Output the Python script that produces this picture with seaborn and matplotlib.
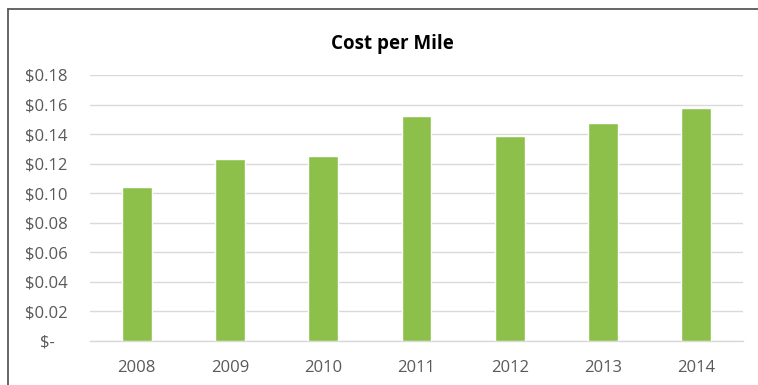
import matplotlib
matplotlib.use("Agg")
import matplotlib.pyplot as plt
from matplotlib.lines import Line2D
import seaborn as sns
import pandas as pd

years = ["2008", "2009", "2010", "2011", "2012", "2013", "2014"]
cost_per_mile = [0.104, 0.123, 0.125, 0.1525, 0.1385, 0.1475, 0.158]
y_ticks = [0.0, 0.02, 0.04, 0.06, 0.08, 0.10, 0.12, 0.14, 0.16, 0.18]
y_labels = ["$-   ", "$0.02", "$0.04", "$0.06", "$0.08", "$0.10", "$0.12", "$0.14", "$0.16", "$0.18"]

sns.set_theme(style="white")
plt.rcParams["font.family"] = ["Open Sans", "DejaVu Sans"]

df = pd.DataFrame({"Year": years, "Cost": cost_per_mile})

W, H = 758, 385
fig = plt.figure(figsize=(W / 100, H / 100), dpi=100)
ax = fig.add_axes([90 / W, 1 - 341 / H, (743 - 90) / W, (341 - 75) / H])

sns.barplot(data=df, x="Year", y="Cost", color="#8DC04B", saturation=1,
            width=0.32, ax=ax, zorder=3)

ax.set_ylim(0, 0.18)
ax.set_yticks(y_ticks)
ax.set_yticklabels(y_labels)
ax.set_xlim(-0.5, len(years) - 0.5)
ax.set_xlabel("")
ax.set_ylabel("")
ax.grid(axis="y", color="#D9D9D9", linewidth=1, zorder=0)
ax.set_axisbelow(True)
for s in ["top", "right", "left"]:
    ax.spines[s].set_visible(False)
ax.spines["bottom"].set_color("#D9D9D9")
ax.spines["bottom"].set_linewidth(1)
ax.tick_params(axis="both", length=0, labelsize=12, labelcolor="#595959")
ax.tick_params(axis="y", pad=16)
ax.tick_params(axis="x", pad=14)

fig.text(392 / W, 1 - 44 / H, "Cost per Mile", ha="center", va="center",
         fontsize=13.5, fontweight="bold", color="#000000")

# chart border (top and left edges)
fig.add_artist(Line2D([8 / W, 1.0], [1 - 9 / H, 1 - 9 / H], color="#595959", linewidth=1.3))
fig.add_artist(Line2D([8 / W, 8 / W], [0.0, 1 - 9 / H], color="#595959", linewidth=1.3))

fig.savefig("out.png", dpi=100)
